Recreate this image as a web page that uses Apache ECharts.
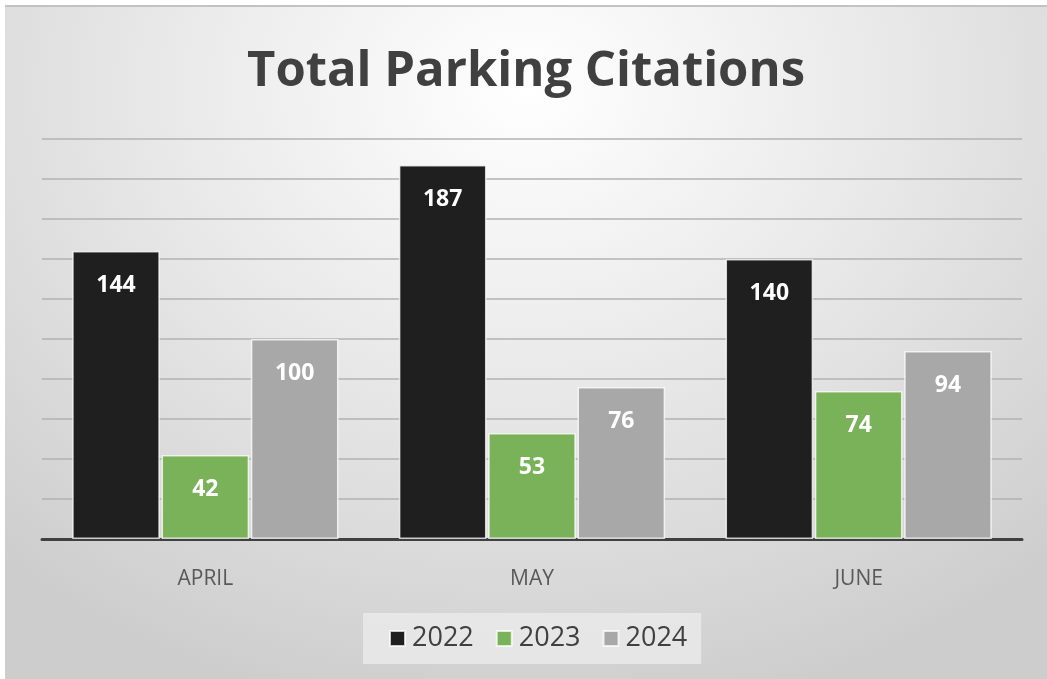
<!DOCTYPE html>
<html>
<head>
<meta charset="utf-8">
<script src="https://cdn.jsdelivr.net/npm/echarts@6/dist/echarts.min.js"></script>
<style>
  html, body { margin: 0; padding: 0; background: #ffffff; }
  #frame {
    position: absolute; left: 5px; top: 7px; width: 1042px; height: 672px;
    background: radial-gradient(ellipse 75% 95% at 50% 12%, #ffffff 0%, #e8e8e8 48%, #cdcdcd 100%);
    box-shadow: 0 -2px 0 #c2c2c2;
  }
  #chart { width: 1042px; height: 672px; }
</style>
</head>
<body>
<div id="frame"><div id="chart"></div></div>
<script>
const MONTHS = ["APRIL", "MAY", "JUNE"];
const YEARS = ["2022", "2023", "2024"];
const VALUES_2022 = [144, 187, 140];
const VALUES_2023 = [42, 53, 74];
const VALUES_2024 = [100, 76, 94];

const COLORS = { "2022": "#1f1f1f", "2023": "#79b259", "2024": "#a8a8a8" };
const FONT = "'Open Sans', Lato, sans-serif";

const chart = echarts.init(document.getElementById("chart"));

function barSeries(name, data) {
  return {
    name,
    type: "bar",
    data,
    barGap: "2%",
    barCategoryGap: "18.5%",
    itemStyle: {
      color: COLORS[name],
      borderColor: "rgba(255,255,255,0.75)",
      borderWidth: 1.5,
    },
    label: {
      show: true,
      position: "insideTop",
      distance: 23,
      color: "#ffffff",
      fontFamily: FONT,
      fontWeight: "bold",
      fontSize: 23,
    },
  };
}

chart.setOption({
  animation: false,
  backgroundColor: "transparent",
  title: {
    text: "Total Parking Citations",
    left: "center",
    top: 36,
    textStyle: { fontFamily: FONT, fontWeight: "bold", fontSize: 49, color: "#404040" },
  },
  grid: { left: 37, right: 25, top: 132, bottom: 140 },
  legend: {
    data: YEARS,
    left: 358,
    bottom: 15,
    icon: "rect",
    itemWidth: 15,
    itemHeight: 15,
    itemGap: 22,
    padding: [12, 14, 12, 26],
    backgroundColor: "rgba(236,236,236,0.75)",
    textStyle: { fontFamily: FONT, fontSize: 27, color: "#404040", padding: [0, 0, 0, 2] },
  },
  xAxis: {
    type: "category",
    data: MONTHS,
    axisTick: { show: false },
    axisLine: { lineStyle: { color: "#404040", width: 3 } },
    axisLabel: { margin: 30, fontFamily: FONT, fontSize: 21, color: "#595959" },
  },
  yAxis: {
    type: "value",
    min: 0,
    max: 200,
    interval: 20,
    axisLabel: { show: false },
    axisLine: { show: false },
    axisTick: { show: false },
    splitLine: { lineStyle: { color: "#b2b2b2", width: 1.5 } },
  },
  series: [
    barSeries("2022", VALUES_2022),
    barSeries("2023", VALUES_2023),
    barSeries("2024", VALUES_2024),
  ],
});

window.addEventListener("resize", () => chart.resize());
</script>
</body>
</html>
